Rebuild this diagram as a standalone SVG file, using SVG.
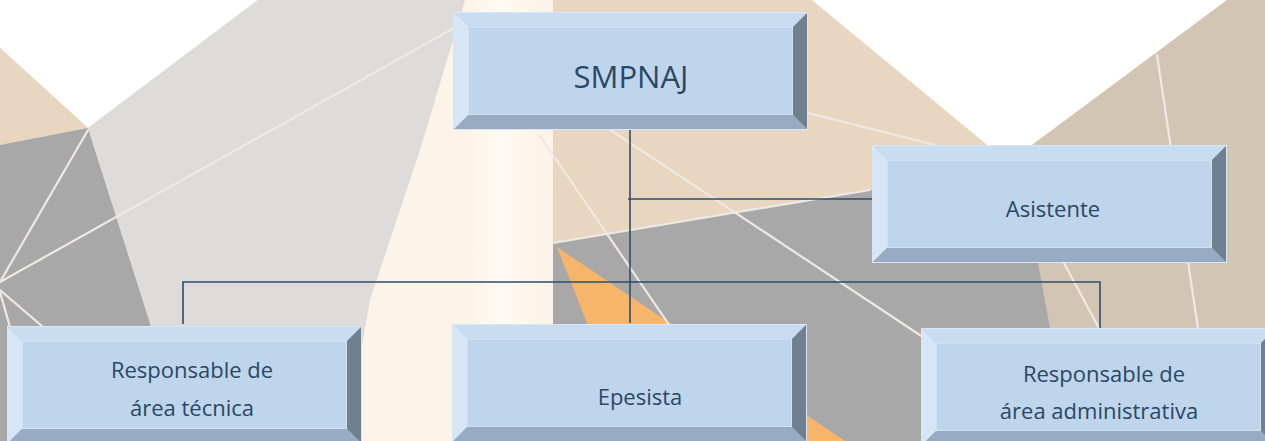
<svg xmlns="http://www.w3.org/2000/svg" width="1265" height="441" viewBox="0 0 1265 441">
  <style>
    .lbl { font-family: "Open Sans", "Noto Sans", "Liberation Sans", sans-serif; fill: #2a4866; text-anchor: middle; }
    .s22 { font-size: 22px; }
    .s31 { font-size: 31px; }
    .conn { fill: none; stroke: #2e4c6c; stroke-width: 1.6; }
    .ray { fill: none; stroke: #eee9e2; stroke-width: 2.2; stroke-linecap: round; }
  </style>
  <defs>
    <linearGradient id="streak" x1="0" y1="0" x2="1" y2="0">
      <stop offset="0" stop-color="#fef9f2" stop-opacity="0"/>
      <stop offset="0.5" stop-color="#fefaf4" stop-opacity="0.9"/>
      <stop offset="1" stop-color="#fef9f2" stop-opacity="0"/>
    </linearGradient>
    <g id="bevel">
      <rect x="15" y="15" width="325" height="88" fill="#bfd5ec" stroke="#d7e5f4" stroke-width="1.5"/>
      <polygon points="0,0 355,0 340,15 15,15" fill="#c9ddf2"/>
      <polygon points="0,0 15,15 15,103 0,118" fill="#d6e6f6"/>
      <polygon points="0,118 15,103 340,103 355,118" fill="#97acc2"/>
      <polygon points="355,0 355,118 340,103 340,15" fill="#6f8090"/>
      <rect x="0.5" y="0.5" width="354" height="117" fill="none" stroke="#d9e7f5" stroke-width="1"/>
    </g>
  </defs>

  <g id="background">
    <rect x="0" y="0" width="1265" height="441" fill="#e8d6c1"/>
    <polygon points="0,0 258,0 88,128 0,48" fill="#ffffff"/>
    <polygon points="0,48 88,128 0,145" fill="#e9d6c0"/>
    <polygon points="0,145 88,128 150,323 170,441 0,441" fill="#a9a8a8"/>
    <polygon points="258,0 465,0 421,147 370,300 345,441 170,441 150,323 88,128" fill="#dddcdb"/>
    <polygon points="465,0 553,0 553,441 345,441 370,300 421,147" fill="#fdf4e9"/>
    <rect x="465" y="0" width="75" height="441" fill="url(#streak)"/>
    <polygon points="812,0 1227,0 1009,163" fill="#ffffff"/>
    <polygon points="1227,0 1265,0 1265,441 1065,441 1050,327 1038,263 1005,165" fill="#d3c5b4"/>
    <polygon points="553,243 870,190 1005,165 1038,263 1050,327 1065,441 553,441" fill="#a9a8a8"/>
    <polygon points="557,247 587,323 634,441 845,441" fill="#f7b56b"/>
    <line class="ray" x1="0" y1="282" x2="454" y2="28"/>
    <line class="ray" x1="0" y1="282" x2="88" y2="130"/>
    <line class="ray" x1="0" y1="290" x2="43" y2="327"/>
    <line class="ray" x1="0" y1="292" x2="10" y2="327"/>
    <line class="ray" x1="540" y1="136" x2="700" y2="370"/>
    <line class="ray" x1="609" y1="129" x2="950" y2="355"/>
    <line class="ray" x1="808" y1="113" x2="935" y2="145"/>
    <line class="ray" x1="553" y1="243" x2="870" y2="190" stroke-width="2"/>
    <line class="ray" x1="1157" y1="55" x2="1199" y2="335"/>
    <line class="ray" x1="1030" y1="200" x2="1100" y2="330"/>
  </g>

  <g id="connectors">
    <path class="conn" d="M630 129 V323"/>
    <path class="conn" d="M628 199 H872"/>
    <path class="conn" d="M183 324 V282 H1100 V328"/>
  </g>

  <g id="smpnaj">
    <use href="#bevel" transform="translate(453,12)"/>
    <text class="lbl s31" x="631" y="88">SMPNAJ</text>
  </g>
  <g id="asistente">
    <use href="#bevel" transform="translate(872,145)"/>
    <text class="lbl s22" x="1053" y="217">Asistente</text>
  </g>
  <g id="resp-tecnica">
    <use href="#bevel" transform="translate(7,326)"/>
    <text class="lbl s22" x="192" y="378">Responsable de</text>
    <text class="lbl s22" x="192" y="416">área técnica</text>
  </g>
  <g id="epesista">
    <use href="#bevel" transform="translate(452,324)"/>
    <text class="lbl s22" x="640" y="405">Epesista</text>
  </g>
  <g id="resp-administrativa">
    <use href="#bevel" transform="translate(921,328)"/>
    <text class="lbl s22" x="1104" y="382">Responsable de</text>
    <text class="lbl s22" x="1099" y="419">área administrativa</text>
  </g>
</svg>
